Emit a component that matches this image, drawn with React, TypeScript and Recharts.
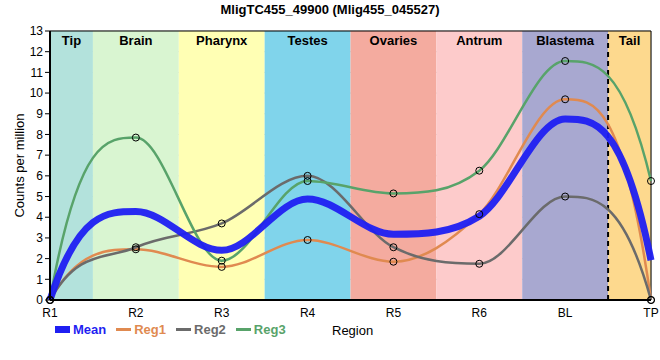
import React from 'react'
import {
  LineChart, Line, XAxis, YAxis, CartesianGrid, ReferenceArea, ReferenceLine,
} from 'recharts'

const positions = ['R1', 'R2', 'R3', 'R4', 'R5', 'R6', 'BL', 'TP']
const reg1 = [0, 2.45, 1.6, 2.9, 1.85, 4.15, 9.7, 0]
const reg2 = [0, 2.55, 3.7, 6.0, 2.55, 1.75, 5.0, 0]
const reg3 = [0, 7.85, 1.9, 5.75, 5.15, 6.25, 11.55, 5.75]
const mean = [0, 4.28, 2.4, 4.88, 3.18, 4.05, 8.75, 1.92]
const yTicks = [0, 1, 2, 3, 4, 5, 6, 7, 8, 9, 10, 11, 12, 13]

const regions = ['Tip', 'Brain', 'Pharynx', 'Testes', 'Ovaries', 'Antrum', 'Blastema', 'Tail']
const regionColors = ['#b3e2dc', '#d9f5d1', '#ffffb4', '#80d4eb', '#f4ab9f', '#fdcbcb', '#a8a8d0', '#fdd98e']

const data = positions.map((p, i) => ({
  x: i, name: p, mean: mean[i], reg1: reg1[i], reg2: reg2[i], reg3: reg3[i],
}))

const FONT = '"Liberation Sans", Arial, sans-serif'
const BLUE = '#1f1ff2'
const ORANGE = '#e08a50'
const GRAY = '#6b6b6b'
const GREEN = '#58a36a'

// monotone Hermite spline (Fritsch-Carlson), steep ends
function fcCurve(context: any) {
  let xs: number[] = []
  let ys: number[] = []
  return {
    areaStart() {},
    areaEnd() {},
    lineStart() { xs = []; ys = [] },
    point(x: number, y: number) { xs.push(+x); ys.push(+y) },
    lineEnd() {
      const n = xs.length
      if (!n) return
      context.moveTo(xs[0], ys[0])
      if (n < 2) return
      const d: number[] = []
      for (let k = 0; k < n - 1; k++) d.push((ys[k + 1] - ys[k]) / (xs[k + 1] - xs[k]))
      const m: number[] = new Array(n).fill(0)
      m[0] = 3 * d[0]
      m[n - 1] = 3 * d[n - 2]
      for (let k = 1; k < n - 1; k++) {
        m[k] = d[k - 1] * d[k] <= 0 ? 0 : (d[k - 1] + d[k]) / 2
      }
      for (let k = 0; k < n - 1; k++) {
        if (d[k] === 0) { m[k] = 0; m[k + 1] = 0; continue }
        const a = m[k] / d[k]
        const b = m[k + 1] / d[k]
        const s = a * a + b * b
        if (s > 9) {
          const t = 3 / Math.sqrt(s)
          m[k] = t * a * d[k]
          m[k + 1] = t * b * d[k]
        }
      }
      for (let k = 0; k < n - 1; k++) {
        const h = (xs[k + 1] - xs[k]) / 3
        context.bezierCurveTo(
          xs[k] + h, ys[k] + m[k] * h,
          xs[k + 1] - h, ys[k + 1] - m[k + 1] * h,
          xs[k + 1], ys[k + 1],
        )
      }
    },
  }
}

const dot = { r: 3.5, stroke: '#000', strokeWidth: 1, fill: 'none' }

const legendItems = [
  { label: 'Mean', color: BLUE, thick: true },
  { label: 'Reg1', color: ORANGE },
  { label: 'Reg2', color: GRAY },
  { label: 'Reg3', color: GREEN },
]

export default function App() {
  return (
    <div style={{ position: 'relative', width: 660, height: 360, fontFamily: FONT, background: '#fff' }}>
      <style>{`body { margin: 0; }`}</style>
      <div style={{
        position: 'absolute', top: 2, left: 0, width: 660, textAlign: 'center',
        fontSize: 13, fontWeight: 700, color: '#000',
      }}>
        MligTC455_49900 (Mlig455_045527)
      </div>

      <LineChart width={660} height={360} data={data} margin={{ top: 31, right: 9, bottom: 40, left: 0 }}>
        {regions.map((r, i) => (
          <ReferenceArea
            key={r}
            x1={Math.max(0, i - 0.5)}
            x2={Math.min(7, i + 0.5)}
            y1={0}
            y2={13}
            fill={regionColors[i]}
            fillOpacity={1}
            stroke="none"
            label={{ value: r, position: 'insideTop', fontSize: 13, fontWeight: 700, fill: '#000', fontFamily: FONT }}
          />
        ))}
        <CartesianGrid stroke="#c9c9c9" strokeWidth={1} />
        <ReferenceLine x={6.5} stroke="#000" strokeWidth={2} strokeDasharray="5 4" />
        <ReferenceLine y={13} stroke="#000" strokeWidth={1} />
        <ReferenceLine x={7} stroke="#000" strokeWidth={1} />
        <XAxis
          type="number"
          dataKey="x"
          domain={[0, 7]}
          ticks={[0, 1, 2, 3, 4, 5, 6, 7]}
          tickFormatter={(v: number) => positions[v]}
          tickLine={false}
          axisLine={{ stroke: '#000', strokeWidth: 2 }}
          tick={{ fill: '#000', fontSize: 12, fontFamily: FONT }}
          height={20}
        />
        <YAxis
          domain={[0, 13]}
          ticks={yTicks}
          interval={0}
          width={50}
          tickSize={5}
          tickLine={{ stroke: '#000' }}
          axisLine={{ stroke: '#000', strokeWidth: 2 }}
          tick={{ fill: '#000', fontSize: 12, fontFamily: FONT }}
          label={{
            value: 'Counts per million', angle: -90, position: 'insideLeft', offset: 19,
            style: { textAnchor: 'middle', fontSize: 13, fill: '#000', fontFamily: FONT },
          }}
        />
        <Line type={fcCurve as any} dataKey="reg1" stroke={ORANGE} strokeWidth={2.5} dot={false} isAnimationActive={false} />
        <Line type={fcCurve as any} dataKey="reg2" stroke={GRAY} strokeWidth={2.5} dot={false} isAnimationActive={false} />
        <Line type={fcCurve as any} dataKey="reg3" stroke={GREEN} strokeWidth={2.5} dot={false} isAnimationActive={false} />
        <Line type={fcCurve as any} dataKey="mean" stroke={BLUE} strokeOpacity={0.95} strokeWidth={7} dot={false} isAnimationActive={false} />
        <Line dataKey="reg1" stroke="none" dot={dot} activeDot={false} legendType="none" isAnimationActive={false} />
        <Line dataKey="reg2" stroke="none" dot={dot} activeDot={false} legendType="none" isAnimationActive={false} />
        <Line dataKey="reg3" stroke="none" dot={dot} activeDot={false} legendType="none" isAnimationActive={false} />
      </LineChart>

      <div style={{ position: 'absolute', left: 55, top: 322, display: 'flex', alignItems: 'center', fontSize: 13 }}>
        {legendItems.map((it) => (
          <div key={it.label} style={{ display: 'flex', alignItems: 'center', marginRight: 10 }}>
            <span style={{
              display: 'inline-block', width: 15, height: it.thick ? 7 : 2.5,
              background: it.color, marginRight: 3,
            }} />
            <span style={{ color: it.color, fontWeight: 700 }}>{it.label}</span>
          </div>
        ))}
      </div>
      <div style={{ position: 'absolute', left: 332, top: 323, fontSize: 13, color: '#000' }}>Region</div>
    </div>
  )
}
